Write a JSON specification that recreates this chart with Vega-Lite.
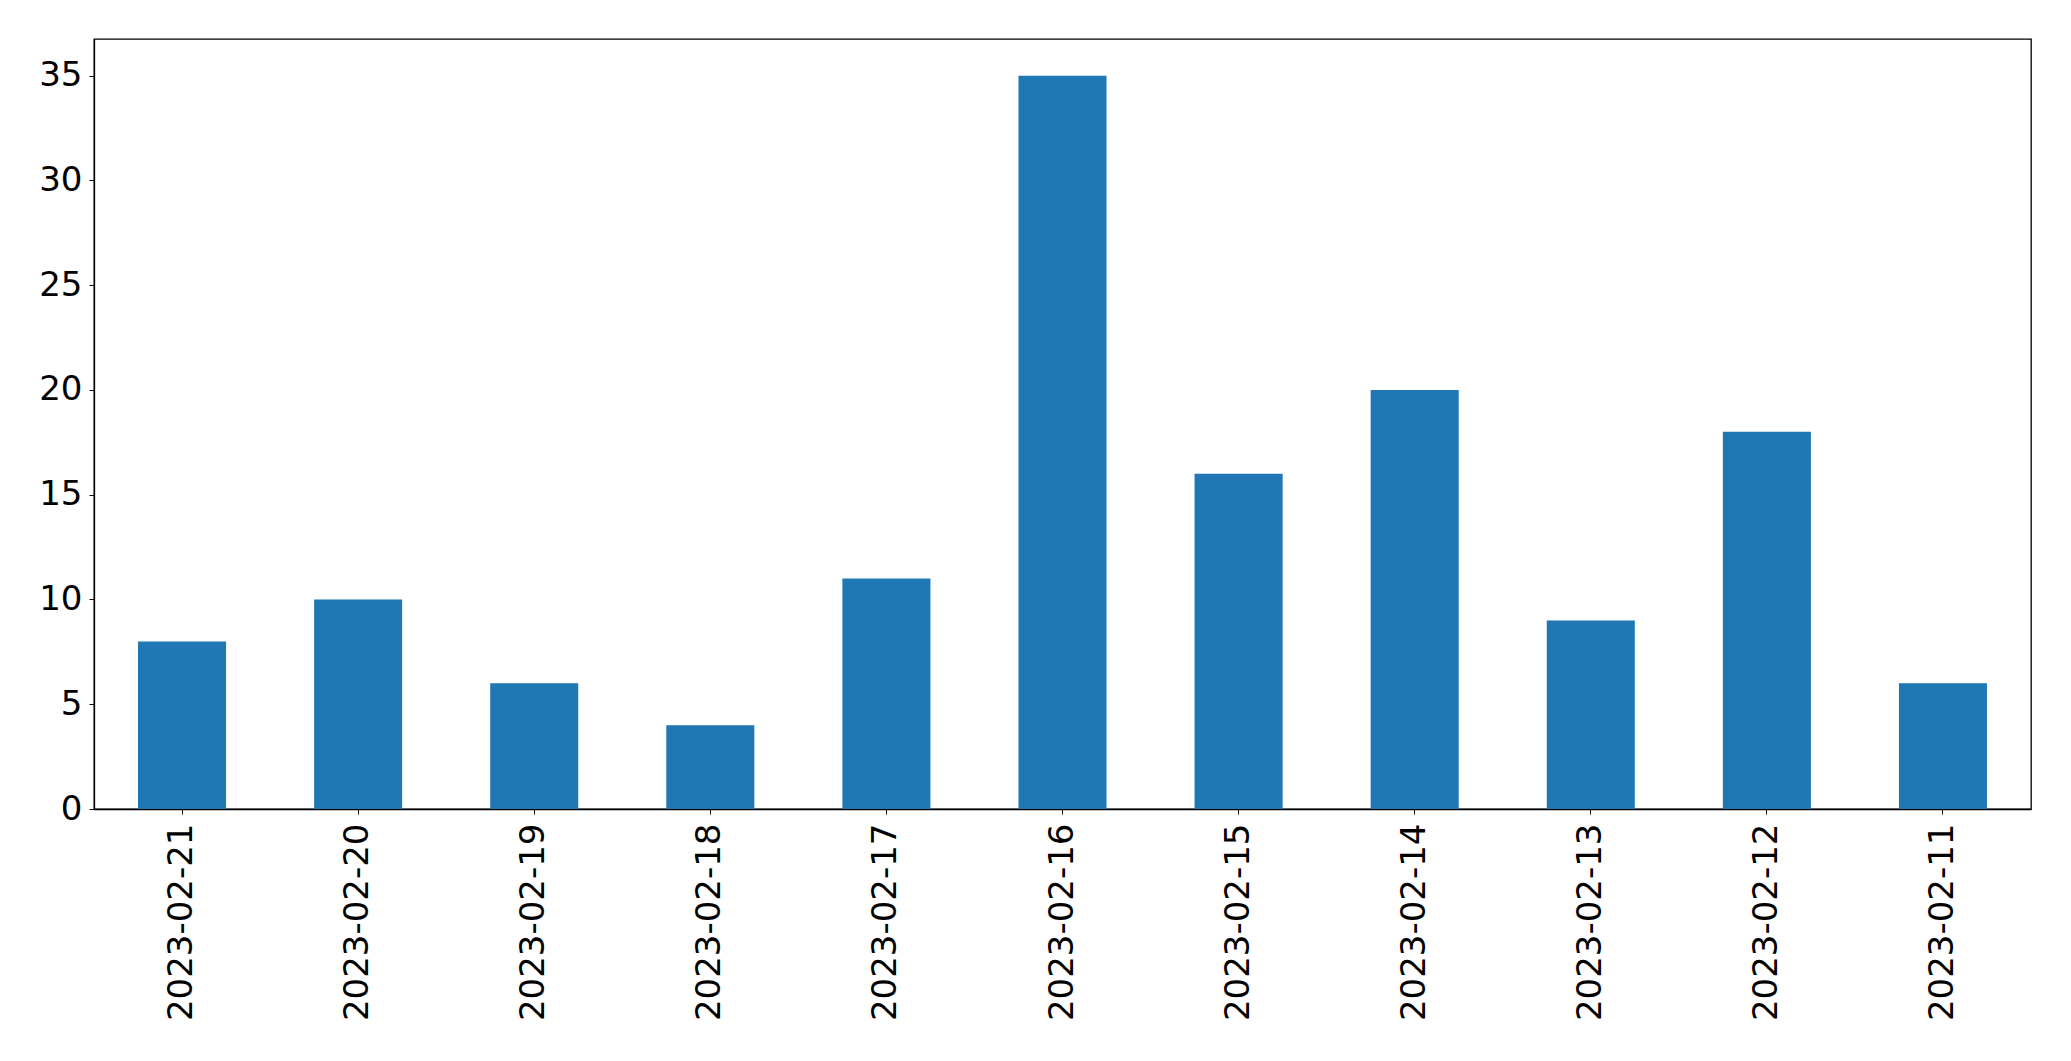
{
  "$schema": "https://vega.github.io/schema/vega-lite/v6.json",
  "autosize": {"type": "none"},
  "padding": {"left": 94, "top": 39, "right": 40, "bottom": 252},
  "width": 1937,
  "height": 770,
  "background": "white",
  "data": {
    "values": [
      {"date": "2023-02-21", "count": 8},
      {"date": "2023-02-20", "count": 10},
      {"date": "2023-02-19", "count": 6},
      {"date": "2023-02-18", "count": 4},
      {"date": "2023-02-17", "count": 11},
      {"date": "2023-02-16", "count": 35},
      {"date": "2023-02-15", "count": 16},
      {"date": "2023-02-14", "count": 20},
      {"date": "2023-02-13", "count": 9},
      {"date": "2023-02-12", "count": 18},
      {"date": "2023-02-11", "count": 6}
    ]
  },
  "mark": {"type": "bar", "color": "#1f77b4"},
  "encoding": {
    "x": {
      "field": "date",
      "type": "nominal",
      "sort": null,
      "scale": {"paddingInner": 0.5, "paddingOuter": 0.25},
      "axis": {
        "title": null,
        "labelAngle": -90,
        "labelAlign": "right",
        "labelBaseline": "middle",
        "labelFont": "DejaVu Sans",
        "labelFontSize": 34,
        "labelLimit": 0,
        "labelColor": "black",
        "labelPadding": 9,
        "tickSize": 5,
        "tickColor": "black",
        "domainColor": "black",
        "domainWidth": 1.3,
        "grid": false
      }
    },
    "y": {
      "field": "count",
      "type": "quantitative",
      "scale": {"domain": [0, 36.75], "nice": false},
      "axis": {
        "title": null,
        "values": [0, 5, 10, 15, 20, 25, 30, 35],
        "labelFont": "DejaVu Sans",
        "labelFontSize": 34,
        "labelColor": "black",
        "labelPadding": 7,
        "tickSize": 5,
        "tickColor": "black",
        "domainColor": "black",
        "domainWidth": 1.3,
        "grid": false
      }
    }
  },
  "config": {
    "view": {"stroke": "black", "strokeWidth": 1.3}
  }
}
